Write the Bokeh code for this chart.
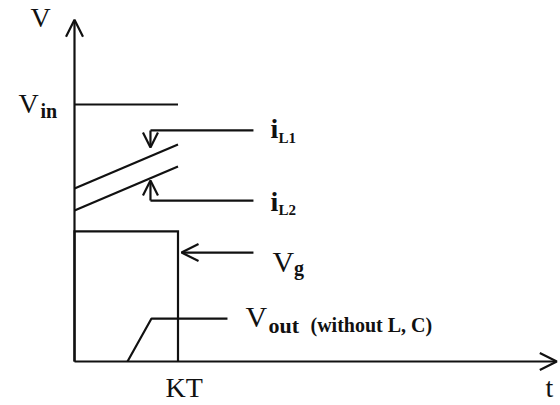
from bokeh.plotting import figure
from bokeh.models import Range1d, Arrow, OpenHead, Label
from bokeh.embed import file_html
from bokeh.resources import INLINE

# Units: time in multiples of the on-time (KT = 1), voltage/current in multiples of Vin (Vin = 1)
KT = 1.0
VIN = 1.0

# Waveforms
vin_t = [0.0, KT]
vin_v = [VIN, VIN]
il_t = [0.0, KT]
il1_v = [0.673, 0.844]
il2_v = [0.588, 0.759]
vg_t = [0.0, 0.0, KT, KT]
vg_v = [0.0, 0.506, 0.506, 0.0]
vout_t = [0.512, 0.744, 1.478]
vout_v = [0.0, 0.167, 0.167]

# Leader lines (callouts) for the labels
lead_start_t = 0.734
lead_end_t = 1.729
il1_lead_v = 0.899
il1_tip_v = 0.833
il2_lead_v = 0.626
il2_tip_v = 0.704
vg_lead_v = 0.424
vg_tip_t = 1.034

# Axes extents
t_axis_end = 4.66
v_axis_end = 1.33

INK = "#111111"
FONT = "Liberation Serif"

p = figure(width=560, height=405, output_backend="svg", toolbar_location=None,
           x_range=Range1d(-0.715, 4.6957), y_range=Range1d(-0.1712, 1.4047),
           x_axis_type=None, y_axis_type=None, min_border=0)
p.grid.visible = False
p.outline_line_color = None
p.background_fill_color = "white"
p.border_fill_color = "white"

lw = 2.2
p.line(vin_t, vin_v, line_color=INK, line_width=lw)
p.line(il_t, il1_v, line_color=INK, line_width=lw)
p.line(il_t, il2_v, line_color=INK, line_width=lw)
p.line(vg_t, vg_v, line_color=INK, line_width=lw, line_join="miter")
p.line(vout_t, vout_v, line_color=INK, line_width=lw)

# leader lines
p.line([lead_start_t, lead_end_t], [il1_lead_v, il1_lead_v], line_color=INK, line_width=lw)
p.line([lead_start_t, lead_end_t], [il2_lead_v, il2_lead_v], line_color=INK, line_width=lw)

def arrow(x0, y0, x1, y1, size):
    p.add_layout(Arrow(x_start=x0, y_start=y0, x_end=x1, y_end=y1,
                       line_color=INK, line_width=lw,
                       end=OpenHead(size=size, line_color=INK, line_width=lw)))

# axes
arrow(0.0, 0.0, t_axis_end, 0.0, 17)
arrow(0.0, 0.0, 0.0, v_axis_end, 17)
# callout arrows
arrow(lead_start_t, il1_lead_v, lead_start_t, il1_tip_v, 15)
arrow(lead_start_t, il2_lead_v, lead_start_t, il2_tip_v, 15)
arrow(lead_end_t, vg_lead_v, vg_tip_t, vg_lead_v, 17)

def label(txt, x, y, size, weight="normal"):
    p.add_layout(Label(x=x, y=y, text=txt, text_font=FONT, text_font_size=f"{size}px",
                       text_font_style=weight, text_color=INK, y_offset=round(0.37 * size),
                       text_align="left", text_baseline="alphabetic"))

label("V", -0.425, 1.300, 28)
label("V", -0.541, 0.965, 28)
label("in", -0.329, 0.946, 20, "bold")
label("i", 1.894, 0.868, 28, "bold")
label("L1", 1.971, 0.848, 15, "bold")
label("i", 1.894, 0.584, 28, "bold")
label("L2", 1.971, 0.568, 15, "bold")
label("V", 1.913, 0.346, 30)
label("g", 2.120, 0.336, 20, "bold")
label("V", 1.652, 0.132, 30)
label("out", 1.874, 0.109, 22, "bold")
label("(without L, C)", 2.280, 0.113, 20, "bold")
label("KT", 0.879, -0.140, 28)
label("t", 4.55, -0.140, 28)

open("out.html", "w").write(file_html(p, INLINE))
